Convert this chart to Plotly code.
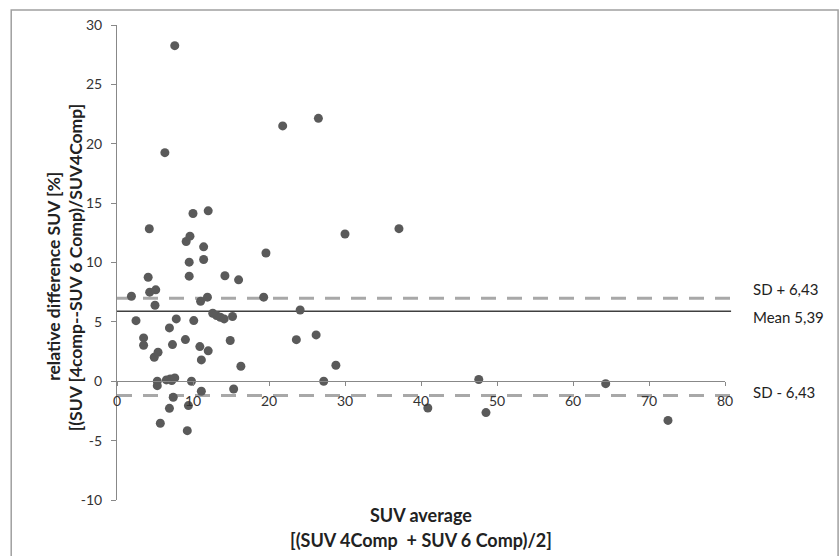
import plotly.graph_objects as go

# Bland-Altman style data
suv_average = [1.9, 2.5, 4.25, 4.1, 4.3, 5.1, 5.0, 3.5, 3.5, 4.9, 5.4, 5.3, 5.3, 5.7, 6.5, 7.0,
               6.9, 7.3, 7.8, 7.2, 7.6, 7.4, 6.9, 9.0, 9.25, 9.4, 9.1, 9.6, 9.5, 9.5, 10.0, 9.8,
               10.1, 10.9, 11.1, 11.1, 11.4, 11.4, 11.0, 12.0, 11.9, 12.0, 12.6, 13.1, 13.6, 14.1,
               14.2, 15.2, 14.9, 15.35, 16.0, 16.3, 19.3, 19.6, 24.1, 23.6, 26.2, 27.2, 28.8, 30.0,
               7.6, 6.3, 21.8, 26.5, 37.1, 47.6, 40.9, 48.55, 64.3, 72.5]
rel_diff = [7.16, 5.1, 12.84, 8.76, 7.5, 7.7, 6.4, 3.65, 3.03, 2.02, 2.44, 0.0, -0.37, -3.54, 0.11, 0.2,
            4.49, 3.09, 5.25, 0.06, 0.28, -1.35, -2.28, 3.51, -4.16, -2.05, 11.77, 12.22, 10.03, 8.85, 14.13, 0.0,
            5.11, 2.92, 1.8, -0.84, 11.32, 10.25, 6.74, 14.35, 7.08, 2.56, 5.73, 5.53, 5.39, 5.25,
            8.88, 5.45, 3.43, -0.65, 8.54, 1.26, 7.08, 10.8, 6.0, 3.5, 3.9, 0.0, 1.35, 12.4,
            28.26, 19.25, 21.5, 22.14, 12.85, 0.15, -2.25, -2.64, -0.2, -3.3]

mean_line = 5.9
sd_upper = 7.0
sd_lower = -1.2
line_labels = ["SD + 6,43", "Mean 5,39", "SD - 6,43"]

x_ticks = [0, 10, 20, 30, 40, 50, 60, 70, 80]
y_ticks = [-10, -5, 0, 5, 10, 15, 20, 25, 30]
y_tick_text = ["-10", "-5", "0", "5", "10", "15", "20", "25", "30"]

y_title = ["relative difference SUV [%]", "[(SUV [4comp--SUV 6 Comp)/SUV4Comp]"]
x_title = ["SUV average", "[(SUV 4Comp  + SUV 6 Comp)/2]"]

FONT = "Lato"
fig = go.Figure()

fig.add_trace(go.Scatter(
    x=suv_average, y=rel_diff, mode="markers",
    marker=dict(size=9, color="#5a5a5a"),
    showlegend=False, cliponaxis=False,
))

# horizontal reference lines
fig.add_shape(type="line", xref="paper", yref="y", x0=0, x1=1.01, y0=sd_upper, y1=sd_upper,
              line=dict(color="#a8a8a8", width=3, dash="15px,11px"), layer="below")
fig.add_shape(type="line", xref="paper", yref="y", x0=0, x1=1.01, y0=sd_lower, y1=sd_lower,
              line=dict(color="#a8a8a8", width=3, dash="15px,11px"), layer="below")
fig.add_shape(type="line", xref="paper", yref="y", x0=0, x1=1.01, y0=mean_line, y1=mean_line,
              line=dict(color="#404040", width=1.5), layer="below")

# outer border
fig.add_shape(type="rect", xref="paper", yref="paper", x0=-0.174, x1=1.186, y0=-0.14, y1=1.0316,
              line=dict(color="#a0a0a0", width=1.5))

for lab, yv in zip(line_labels, [sd_upper + 0.8, mean_line - 0.5, sd_lower + 0.3]):
    fig.add_annotation(text=lab, xref="paper", yref="y", x=1.043, y=yv, xanchor="left",
                       yanchor="middle", showarrow=False, font=dict(family=FONT, size=15, color="#222"))

fig.add_annotation(text="<b>%s</b>" % y_title[0],
                   xref="paper", yref="paper", x=-0.1036, y=0.47, xanchor="center", yanchor="middle",
                   textangle=-90, showarrow=False,
                   font=dict(family=FONT, size=17.5, color="#222"))
fig.add_annotation(text="<b>%s</b>" % y_title[1],
                   xref="paper", yref="paper", x=-0.0691, y=0.49, xanchor="center", yanchor="middle",
                   textangle=-90, showarrow=False,
                   font=dict(family=FONT, size=17.5, color="#222"))
fig.add_annotation(text="<b>%s</b>" % x_title[0],
                   xref="paper", yref="paper", x=0.5, y=-0.032, xanchor="center", yanchor="middle",
                   showarrow=False, font=dict(family=FONT, size=18, color="#222"))
fig.add_annotation(text="<b>%s</b>" % x_title[1],
                   xref="paper", yref="paper", x=0.5, y=-0.085, xanchor="center", yanchor="middle",
                   showarrow=False, font=dict(family=FONT, size=18, color="#222"))

fig.update_layout(
    width=840, height=556,
    margin=dict(l=117, r=115, t=25, b=56, autoexpand=False),
    plot_bgcolor="white", paper_bgcolor="white",
    font=dict(family=FONT, size=14, color="#333"),
    xaxis=dict(range=[0, 80], tickvals=x_ticks, showgrid=False, zeroline=False, automargin=False,
               showline=True, linecolor="#888", linewidth=1, ticks="outside", ticklen=4,
               tickcolor="#888", anchor="free", position=0.25, ticklabelstandoff=3),
    yaxis=dict(range=[-10, 30], tickvals=y_ticks, ticktext=y_tick_text, showgrid=False,
               zeroline=False, automargin=False,
               showline=True, linecolor="#888", linewidth=1, ticks="outside", ticklen=5,
               tickcolor="#888", ticklabelstandoff=6),
)

fig.write_html("out.html", config={"displayModeBar": False},
               post_script="document.body.style.margin='0';document.body.style.padding='0';")
